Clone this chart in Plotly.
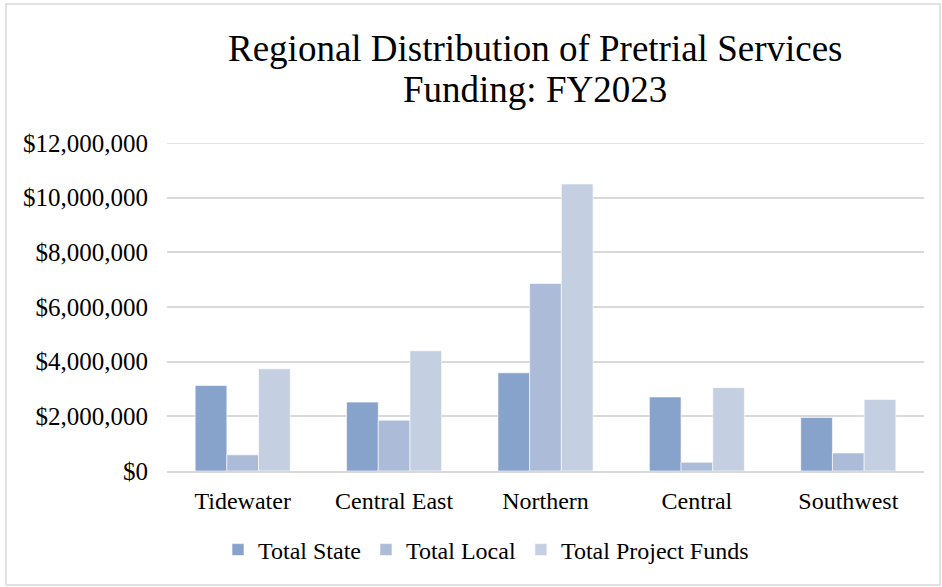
import plotly.graph_objects as go

regions = ["Tidewater", "Central East", "Northern", "Central", "Southwest"]
total_state = [3130000, 2520000, 3590000, 2710000, 1960000]
total_local = [590000, 1860000, 6860000, 320000, 660000]
total_project = [3740000, 4400000, 10500000, 3050000, 2620000]
y_ticks = [0, 2000000, 4000000, 6000000, 8000000, 10000000, 12000000]
title_lines = ["Regional Distribution of Pretrial Services", "Funding: FY2023"]

FONT = "Liberation Serif, Times New Roman, serif"
W, H = 942, 587
L, R, T, B = 167, 18, 143, 116
pw, ph = W - L - R, H - T - B


def px_x(x):
    return (x - L) / pw


def px_y(y):
    return (H - B - y) / ph


fig = go.Figure()
fig.add_trace(go.Bar(x=regions, y=total_state, name="Total State", marker_color="#87A2CB"))
fig.add_trace(go.Bar(x=regions, y=total_local, name="Total Local", marker_color="#ABBBD8"))
fig.add_trace(go.Bar(x=regions, y=total_project, name="Total Project Funds", marker_color="#C4D0E2"))

fig.update_traces(marker_line=dict(width=0.6, color="white"), hoverinfo="x+y+name")

# title as two lines placed separately (Excel uses tighter line spacing)
for txt, yc in zip(title_lines, [48, 90]):
    fig.add_annotation(
        text=txt, xref="paper", yref="paper", x=px_x(535), y=px_y(yc),
        xanchor="center", yanchor="middle", showarrow=False,
        font=dict(family=FONT, size=37, color="black"),
    )

fig.update_layout(
    width=W, height=H,
    margin=dict(l=L, r=R, t=T, b=B, pad=0),
    paper_bgcolor="white", plot_bgcolor="white",
    font=dict(family=FONT, size=24, color="black"),
    barmode="group", bargap=0.372, bargroupgap=0,
    xaxis=dict(
        showgrid=False, showline=True, linecolor="#D9D9D9", linewidth=1.5,
        ticks="", ticklabelstandoff=7, tickfont=dict(size=24),
    ),
    yaxis=dict(
        range=[0, 12000000], tickvals=y_ticks, tickformat="$,.0f",
        showgrid=True, gridcolor="#D9D9D9", gridwidth=1.5,
        zeroline=False, ticks="", ticklabelstandoff=18, tickfont=dict(size=25),
    ),
    legend=dict(
        orientation="h", x=px_x(486), xanchor="center", y=px_y(550), yanchor="middle",
        font=dict(size=24), itemwidth=30, traceorder="normal",
    ),
    shapes=[
        dict(
            type="rect", xref="paper", yref="paper",
            x0=px_x(6), x1=px_x(940), y0=px_y(585), y1=px_y(4),
            line=dict(color="#D9D9D9", width=1.5),
        ),
        # top gridline at the range edge
        dict(
            type="line", xref="paper", yref="y", x0=0, x1=1,
            y0=y_ticks[-1], y1=y_ticks[-1],
            line=dict(color="#D9D9D9", width=1.5), layer="below",
        ),
    ],
)

fig.write_html(
    "out.html",
    config={"displayModeBar": False},
    post_script="document.body.style.margin='0';",
)
